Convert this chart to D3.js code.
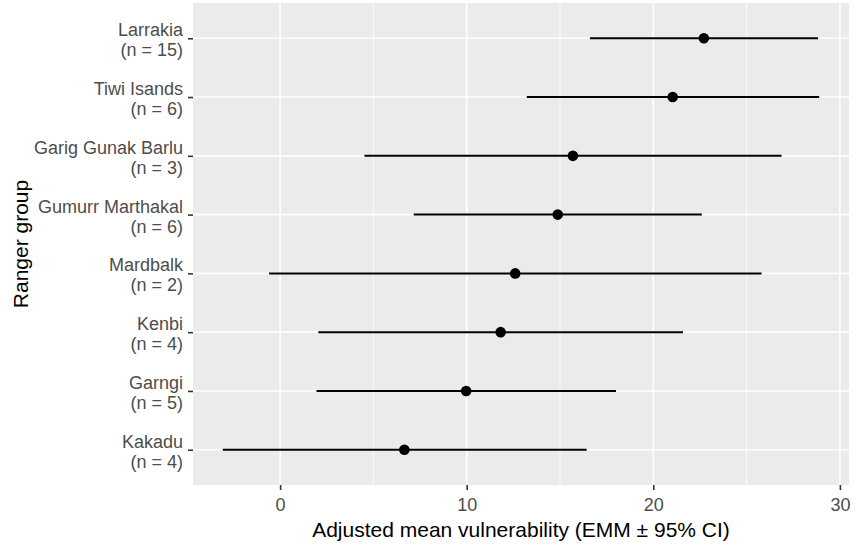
<!DOCTYPE html>
<html>
<head>
<meta charset="utf-8">
<script src="https://cdn.jsdelivr.net/npm/d3@7"></script>
<style>
  body { margin: 0; background: #fff; }
  svg { display: block; font-family: "Liberation Sans", Arial, sans-serif; }
</style>
</head>
<body>
<svg width="856" height="546"></svg>
<script>
// ranger groups, top to bottom
const groups = ["Larrakia", "Tiwi Isands", "Garig Gunak Barlu", "Gumurr Marthakal",
                "Mardbalk", "Kenbi", "Garngi", "Kakadu"];
const nCounts = [15, 6, 3, 6, 2, 4, 5, 4];
const emm = [22.71, 21.04, 15.69, 14.88, 12.6, 11.82, 9.97, 6.66];
const lower = [16.6, 13.22, 4.52, 7.16, -0.59, 2.05, 1.95, -3.07];
const upper = [28.83, 28.89, 26.87, 22.6, 25.8, 21.59, 18.0, 16.43];
const xTicks = [0, 10, 20, 30];
const xMinor = [5, 15, 25];

const data = groups.map((g, i) => ({
    group: g, n: nCounts[i], est: emm[i], lo: lower[i], hi: upper[i]
}));

let svg = d3.select("svg");
let margin = {top: 3, right: 7, bottom: 61, left: 193};
let width = 856 - margin.left - margin.right;
let height = 546 - margin.top - margin.bottom;

let chart = svg.append("g")
    .attr("transform", `translate(${margin.left}, ${margin.top})`);

// ggplot style 5% expansion
let lo = d3.min(lower), hi = d3.max(upper);
let pad = (hi - lo) * 0.05;
let xScale = d3.scaleLinear()
    .domain([lo - pad, hi + pad])
    .range([0, width]);

// discrete axis with 0.6 unit padding each side
let yScale = d3.scalePoint()
    .domain(groups)
    .range([0, height])
    .padding(0.6);

// panel
chart.append("rect")
    .attr("width", width)
    .attr("height", height)
    .attr("fill", "#EBEBEB");

// minor grid
chart.selectAll(".minor")
    .data(xMinor)
    .enter()
    .append("line")
    .attr("x1", d => xScale(d)).attr("x2", d => xScale(d))
    .attr("y1", 0).attr("y2", height)
    .attr("stroke", "#fff")
    .attr("stroke-width", 0.8);

// major grid
chart.selectAll(".vmajor")
    .data(xTicks)
    .enter()
    .append("line")
    .attr("x1", d => xScale(d)).attr("x2", d => xScale(d))
    .attr("y1", 0).attr("y2", height)
    .attr("stroke", "#fff")
    .attr("stroke-width", 1.6);

chart.selectAll(".hmajor")
    .data(groups)
    .enter()
    .append("line")
    .attr("x1", 0).attr("x2", width)
    .attr("y1", d => yScale(d)).attr("y2", d => yScale(d))
    .attr("stroke", "#fff")
    .attr("stroke-width", 1.6);

/// x axis ///
let xAxis = chart.append("g")
    .attr("transform", `translate(0, ${height})`)
    .call(d3.axisBottom(xScale).tickValues(xTicks).tickSize(5).tickPadding(4));
xAxis.select(".domain").remove();
xAxis.selectAll("line").attr("stroke", "#333333").attr("stroke-width", 1.6);
xAxis.selectAll("text")
    .attr("fill", "#4D4D4D")
    .style("font-size", "18px")
    .attr("dy", "0.93em");

/// y axis ///
let yAxis = chart.append("g")
    .call(d3.axisLeft(yScale).tickSize(5).tickPadding(6).tickFormat(""));
yAxis.select(".domain").remove();
yAxis.selectAll("line").attr("stroke", "#333333").attr("stroke-width", 1.6);

// two-line tick labels
let labels = chart.selectAll(".ylab")
    .data(data)
    .enter()
    .append("text")
    .attr("text-anchor", "end")
    .attr("fill", "#4D4D4D")
    .style("font-size", "18px")
    .attr("transform", d => `translate(-10, ${yScale(d.group)})`);
labels.append("tspan").attr("x", 0).attr("y", -2).text(d => d.group);
labels.append("tspan").attr("x", 0).attr("y", 18).text(d => `(n = ${d.n})`);

/// error bars + points ///
chart.selectAll(".ci")
    .data(data)
    .enter()
    .append("line")
    .attr("x1", d => xScale(d.lo))
    .attr("x2", d => xScale(d.hi))
    .attr("y1", d => yScale(d.group))
    .attr("y2", d => yScale(d.group))
    .attr("stroke", "#000")
    .attr("stroke-width", 2);

chart.selectAll(".pt")
    .data(data)
    .enter()
    .append("circle")
    .attr("cx", d => xScale(d.est))
    .attr("cy", d => yScale(d.group))
    .attr("r", 5.3)
    .attr("fill", "#000");

/// axis titles ///
chart.append("text")
    .attr("x", width / 2)
    .attr("y", height + 52)
    .attr("text-anchor", "middle")
    .style("font-size", "21px")
    .attr("fill", "#000")
    .text("Adjusted mean vulnerability (EMM ± 95% CI)");

chart.append("text")
    .attr("transform", "rotate(-90)")
    .attr("x", -height / 2)
    .attr("y", -165)
    .attr("text-anchor", "middle")
    .style("font-size", "21px")
    .attr("fill", "#000")
    .text("Ranger group");
</script>
</body>
</html>
